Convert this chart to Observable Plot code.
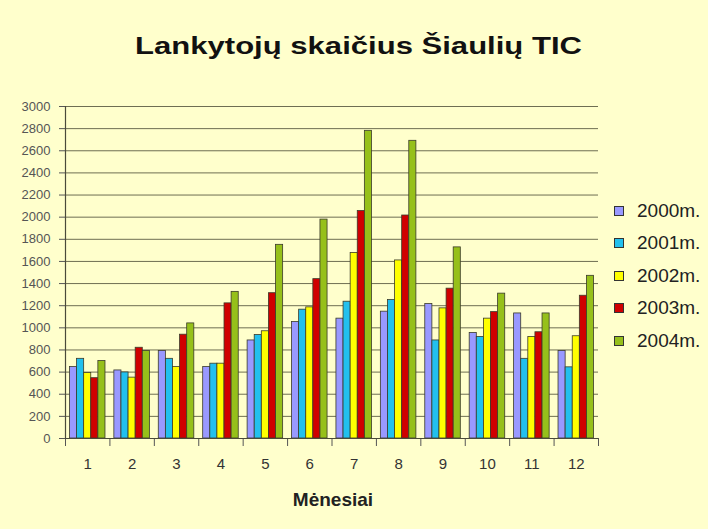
<!DOCTYPE html>
<html>
<head>
<meta charset="utf-8">
<script src="https://cdn.jsdelivr.net/npm/d3@7"></script>
<script src="https://cdn.jsdelivr.net/npm/@observablehq/plot@0.6"></script>
<style>
  html, body { margin: 0; padding: 0; background: #ffffcc; }
  #wrap { position: relative; width: 708px; height: 529px; overflow: hidden; background: #ffffcc; font-family: "Liberation Sans", Arial, sans-serif; }
  #title { position: absolute; left: 0; width: 718px; top: 35px; text-align: center; font-size: 23px; line-height: 23px; font-weight: bold; color: #111; }
  #title span { display: inline-block; transform: scaleX(1.35); }
  #chart { position: absolute; left: 0; top: 90px; }
  #legend { position: absolute; left: 614px; top: 0; }
  .item { position: absolute; left: 0; white-space: nowrap; font-size: 19px; line-height: 19px; color: #222; }
  .sw { position: absolute; left: 0; top: 5px; width: 8px; height: 8px; border: 1px solid #333; }
  .lab { position: absolute; left: 23px; top: 0; }
  #xlabel { position: absolute; left: 233px; width: 200px; top: 490px; text-align: center; font-size: 19px; line-height: 20px; font-weight: bold; color: #222; }
</style>
</head>
<body>
<div id="wrap">
  <div id="title"><span>Lankytojų skaičius Šiaulių TIC</span></div>
  <div id="chart"></div>
  <div id="legend"></div>
  <div id="xlabel">Mėnesiai</div>
</div>
<script>
const months = [1, 2, 3, 4, 5, 6, 7, 8, 9, 10, 11, 12];
const series = ["2000m.", "2001m.", "2002m.", "2003m.", "2004m."];
const v2000 = [646, 615, 791, 646, 886, 1052, 1083, 1146, 1215, 954, 1130, 791];
const v2001 = [720, 597, 720, 676, 935, 1164, 1236, 1251, 886, 918, 720, 643];
const v2002 = [591, 550, 646, 676, 969, 1185, 1677, 1609, 1176, 1083, 918, 924];
const v2003 = [545, 820, 938, 1221, 1313, 1440, 2055, 2015, 1354, 1142, 960, 1290];
const v2004 = [700, 791, 1040, 1325, 1750, 1978, 2780, 2690, 1727, 1309, 1130, 1470];
const colors = ["#9999ff", "#22c0ee", "#ffff00", "#d00000", "#96c01a"];
const yTicks = d3.range(0, 3001, 200);
const boundaries = d3.range(0.5, 12.51, 1);

const values = [v2000, v2001, v2002, v2003, v2004];
const data = [];
months.forEach((m, i) => {
  series.forEach((s, j) => {
    data.push({month: m, series: s, idx: j, value: values[j][i]});
  });
});

const groupW = 0.8, barW = groupW / series.length;

const chart = Plot.plot({
  width: 708,
  height: 410,
  marginLeft: 65,
  marginRight: 110,
  marginTop: 16,
  marginBottom: 62,
  style: {background: "transparent", fontFamily: "Liberation Sans, Arial, sans-serif", fontSize: "13px", color: "#555"},
  x: {domain: [0.5, 12.5], ticks: boundaries, tickSize: 8, tickFormat: () => "", label: null},
  y: {domain: [0, 3000], ticks: yTicks, tickSize: 6, tickPadding: 9, tickFormat: d => String(d), label: null},
  color: {domain: series, range: colors},
  marks: [
    Plot.ruleY(yTicks.filter(t => t > 0), {stroke: "#6e6e52", strokeWidth: 1}),
    Plot.rect(data, {
      x1: d => d.month - groupW / 2 + d.idx * barW,
      x2: d => d.month - groupW / 2 + (d.idx + 1) * barW,
      y1: 0,
      y2: "value",
      fill: "series",
      stroke: "#3a3a2a",
      strokeWidth: 0.8
    }),
    Plot.ruleY([0], {stroke: "#4a4a3a", strokeWidth: 1.2}),
    Plot.ruleX([0.5], {stroke: "#4a4a3a", strokeWidth: 1.2}),
    Plot.text(months, {x: d => d, y: 0, text: d => String(d), dy: 26, fontSize: 15, fill: "#333"})
  ]
});
document.getElementById("chart").appendChild(chart);

const legend = document.getElementById("legend");
series.forEach((s, j) => {
  const item = document.createElement("div");
  item.className = "item";
  item.style.top = (200.5 + j * 32.5) + "px";
  const sw = document.createElement("div");
  sw.className = "sw";
  sw.style.background = colors[j];
  const lab = document.createElement("div");
  lab.className = "lab";
  lab.textContent = s;
  item.appendChild(sw);
  item.appendChild(lab);
  legend.appendChild(item);
});
</script>
</body>
</html>
